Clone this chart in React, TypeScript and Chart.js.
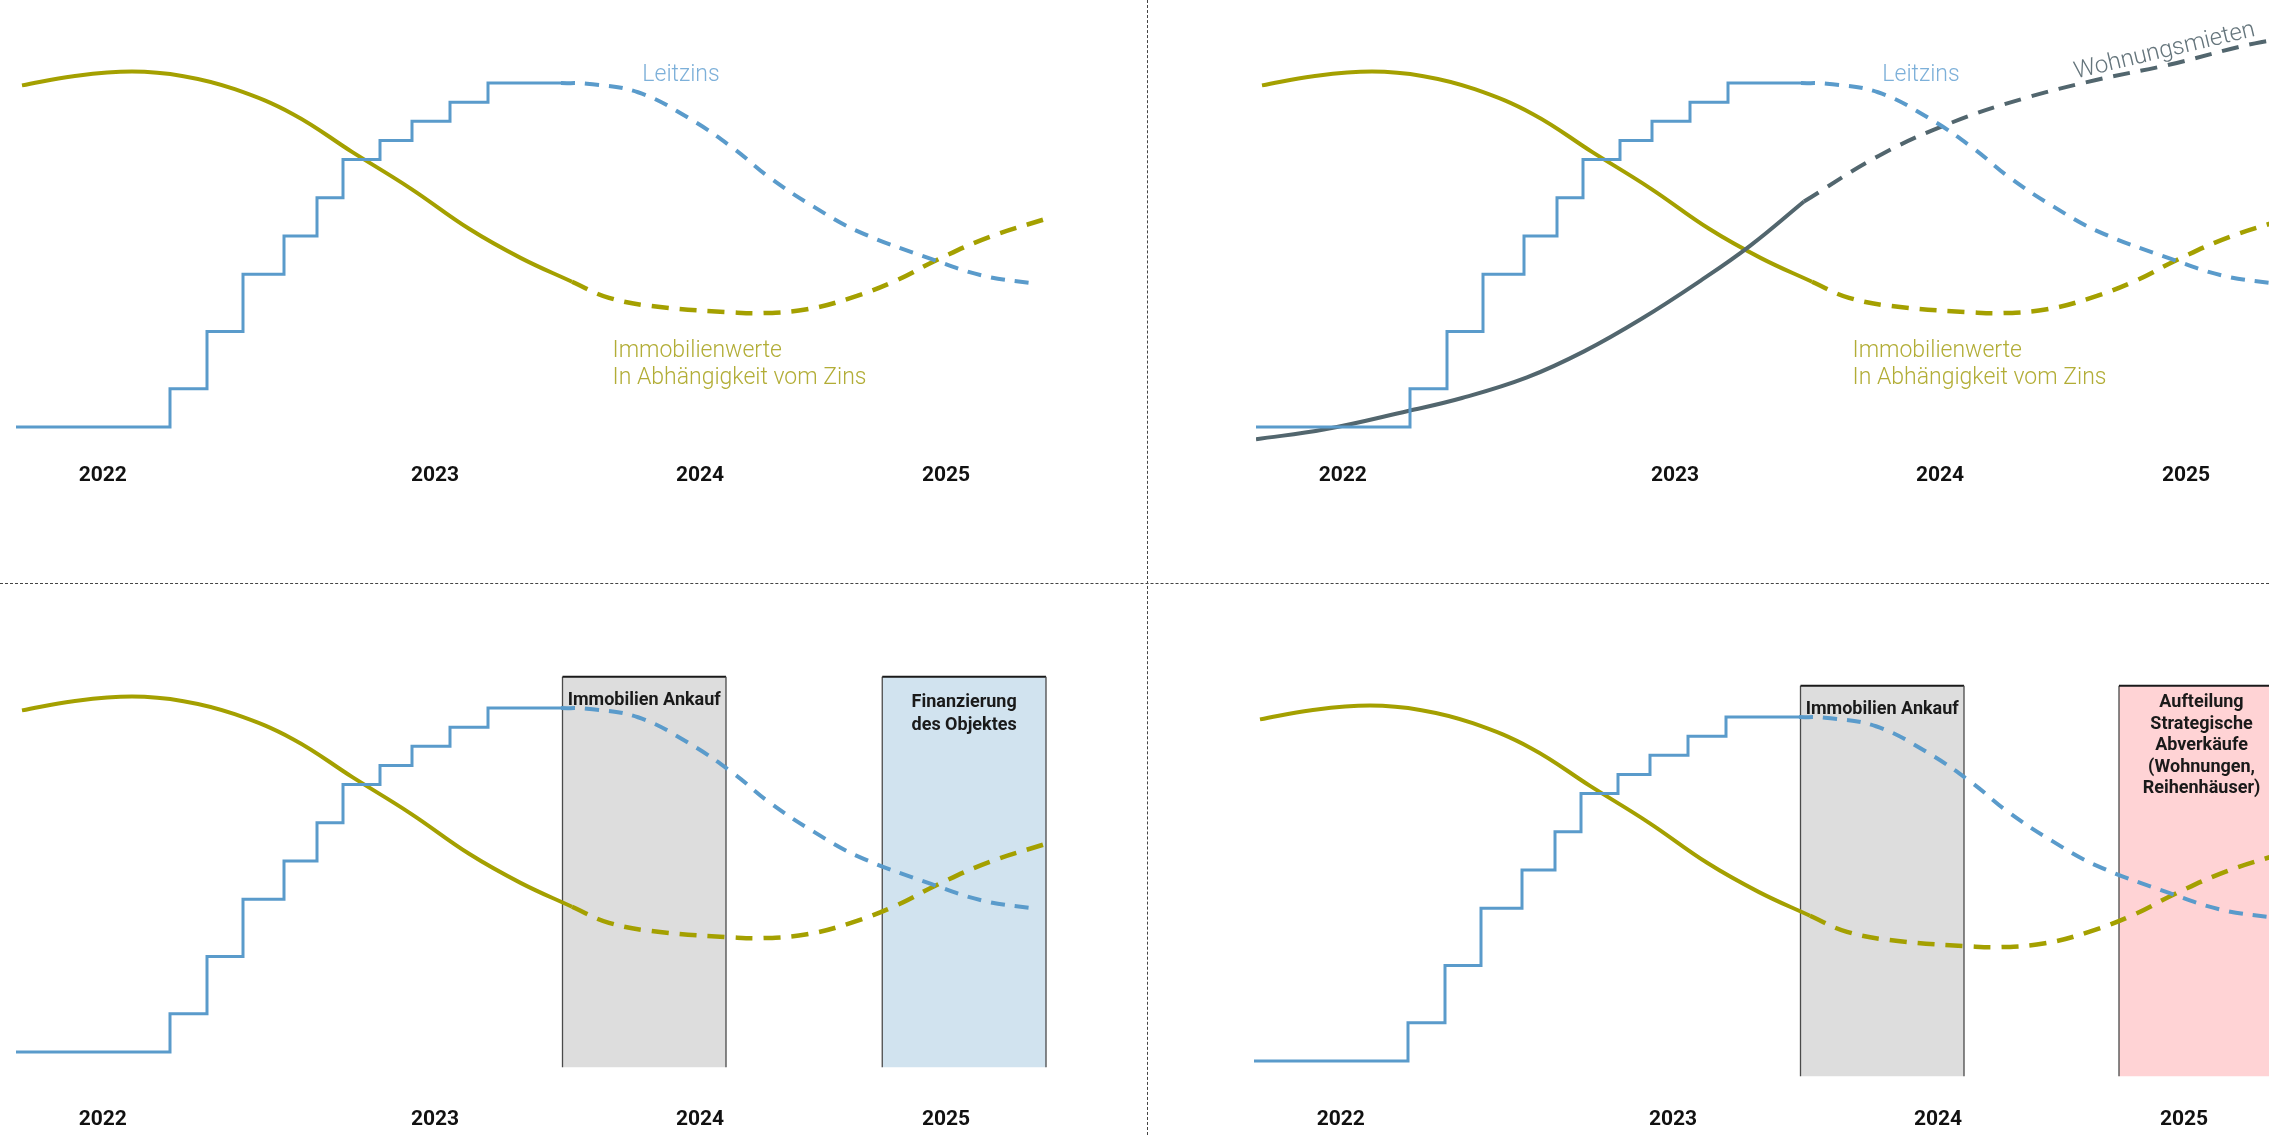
import React, { useEffect, useRef } from 'react';
import { Chart, registerables } from 'chart.js';

Chart.register(...registerables);

// ---------- data (x: schematic months since Jan 2022, y: rate-like index in %) ----------
const yearTickMonths = [3.47, 16.76, 27.36, 37.2];
const yearTickLabels = ['2022', '2023', '2024', '2025'];

// Leitzins (actual, stepped)
const leitzinsMonths = [0, 6.16, 7.64, 9.08, 10.72, 12.04, 13.08, 14.56, 15.84, 17.36, 18.88, 21.8];
const leitzinsValues = [-0.5, 0, 0.75, 1.5, 2.0, 2.5, 3.0, 3.25, 3.5, 3.75, 4.0, 4.0];
// Leitzins (forecast, dashed)
const leitzinsForecastMonths = [21.8, 22.84, 24.88, 26.92, 28.68, 30.16, 31.92, 33.68, 36.6, 38.68, 40.9];
const leitzinsForecastValues = [4.0, 3.99, 3.88, 3.54, 3.15, 2.76, 2.38, 2.06, 1.7, 1.48, 1.37];

// Immobilienwerte (actual, solid)
const immoMonths = [0.24, 2.29, 4.64, 6.7, 8.75, 11.1, 13.44, 15.79, 18.14, 20.2, 22.24];
const immoValues = [3.97, 4.09, 4.15, 4.09, 3.92, 3.59, 3.1, 2.62, 2.09, 1.71, 1.4];
// Immobilienwerte (forecast, dashed)
const immoForecastMonths = [22.24, 23.72, 25.76, 28.68, 29.88, 31.64, 33.4, 35.16, 36.92, 38.96, 41.16];
const immoForecastValues = [1.4, 1.19, 1.07, 1.0, 0.99, 1.04, 1.19, 1.41, 1.7, 1.99, 2.22];

// Wohnungsmieten (actual, solid)
const mietenMonths = [0, 2.76, 6.08, 8.24, 10.84, 13.12, 15.44, 17.76, 19.76, 21.92];
const mietenValues = [-0.66, -0.53, -0.29, -0.12, 0.15, 0.49, 0.92, 1.41, 1.87, 2.45];
// Wohnungsmieten (forecast, dashed)
const mietenForecastMonths = [21.92, 24.92, 27.8, 30.72, 33.6, 36.52, 39.96, 42];
const mietenForecastValues = [2.45, 3.05, 3.48, 3.8, 4.04, 4.24, 4.52, 4.62];

// Phase boxes (months from / to, value bottom / top)
const phaseRange = [-0.7, 4.41];
const ankaufMonths = [21.86, 28.4];
const finanzierungMonths = [34.65, 41.2];
const aufteilungMonths = [34.6, 41.2];

const ankaufLabel = ['Immobilien Ankauf'];
const finanzierungLabel = ['Finanzierung', 'des Objektes'];
const aufteilungLabel = ['Aufteilung', 'Strategische', 'Abverkäufe', '(Wohnungen,', 'Reihenhäuser)'];

// ---------- styles ----------
const FONT = 'Roboto';
const C_LEITZINS = '#5a9bcb';
const C_LEITZINS_TEXT = '#7db0d9';
const C_IMMO = '#a4a000';
const C_IMMO_TEXT = '#b2ad36';
const C_MIETEN = '#52666e';
const C_MIETEN_TEXT = '#65757c';

const X_MIN = 0;
const X_MAX = 42;
const Y_MIN = -0.9;
const Y_MAX = 5.1;

type TextItem = {
  x: number;
  y: number;
  lines: string[];
  font: string;
  color: string;
  align: CanvasTextAlign;
  baseline: CanvasTextBaseline;
  lineHeight: number;
  rotate?: number;
};

const pts = (xs: number[], ys: number[]) => xs.map((x, i) => ({ x, y: ys[i] }));

function lineDatasets(withMieten: boolean) {
  const ds: any[] = [
    {
      label: 'Immobilienwerte',
      data: pts(immoMonths, immoValues),
      borderColor: C_IMMO,
      borderWidth: 4,
      tension: 0.4,
      pointRadius: 0,
      order: 3,
    },
    {
      label: 'Immobilienwerte Prognose',
      data: pts(immoForecastMonths, immoForecastValues),
      borderColor: C_IMMO,
      borderWidth: 4.5,
      borderDash: [17, 11],
      tension: 0.4,
      pointRadius: 0,
      order: 3,
    },
    {
      label: 'Leitzins',
      data: pts(leitzinsMonths, leitzinsValues),
      borderColor: C_LEITZINS,
      borderWidth: 3,
      stepped: 'before',
      pointRadius: 0,
      order: 1,
    },
    {
      label: 'Leitzins Prognose',
      data: pts(leitzinsForecastMonths, leitzinsForecastValues),
      borderColor: C_LEITZINS,
      borderWidth: 4,
      borderDash: [14, 10],
      tension: 0.4,
      pointRadius: 0,
      order: 1,
    },
  ];
  if (withMieten) {
    ds.push(
      {
        label: 'Wohnungsmieten',
        data: pts(mietenMonths, mietenValues),
        borderColor: C_MIETEN,
        borderWidth: 4,
        tension: 0.4,
        pointRadius: 0,
        order: 2,
      },
      {
        label: 'Wohnungsmieten Prognose',
        data: pts(mietenForecastMonths, mietenForecastValues),
        borderColor: C_MIETEN,
        borderWidth: 4,
        borderDash: [17, 11],
        tension: 0.4,
        pointRadius: 0,
        order: 2,
      }
    );
  }
  return ds;
}

function boxDataset(label: string, months: number[], fill: string) {
  const [lo, hi] = phaseRange;
  return {
    label,
    data: [
      { x: months[0], y: lo },
      { x: months[0], y: hi },
      { x: months[1], y: hi },
      { x: months[1], y: lo },
    ],
    borderColor: '#4a4a4a',
    borderWidth: 1.3,
    segment: {
      borderColor: (c: any) => (c.p0DataIndex === 1 ? '#1a1a1a' : '#4a4a4a'),
      borderWidth: (c: any) => (c.p0DataIndex === 1 ? 2 : 1.3),
    },
    backgroundColor: fill,
    fill: { value: lo },
    tension: 0,
    pointRadius: 0,
    order: 10,
  };
}

const boldBox = `bold 18px ${FONT}`;
const lightLabel = `300 23px ${FONT}`;

const leitzinsText: TextItem = {
  x: 26.6, y: 4.03, lines: ['Leitzins'], font: lightLabel, color: C_LEITZINS_TEXT,
  align: 'center', baseline: 'alphabetic', lineHeight: 27.5,
};
const immoText: TextItem = {
  x: 23.86, y: 0.42, lines: ['Immobilienwerte', 'In Abhängigkeit vom Zins'], font: lightLabel, color: C_IMMO_TEXT,
  align: 'left', baseline: 'alphabetic', lineHeight: 27.5,
};
const mietenText: TextItem = {
  x: 36.4, y: 4.34, lines: ['Wohnungsmieten'], font: `300 24px ${FONT}`, color: C_MIETEN_TEXT,
  align: 'center', baseline: 'alphabetic', lineHeight: 27.5, rotate: -13.4,
};
const ankaufText: TextItem = {
  x: (ankaufMonths[0] + ankaufMonths[1]) / 2, y: 4.1, lines: ankaufLabel, font: boldBox, color: '#1a1a1a',
  align: 'center', baseline: 'middle', lineHeight: 22.5,
};
const finanzierungText: TextItem = {
  x: (finanzierungMonths[0] + finanzierungMonths[1]) / 2, y: 4.07, lines: finanzierungLabel, font: boldBox, color: '#1a1a1a',
  align: 'center', baseline: 'middle', lineHeight: 22.5,
};
const aufteilungText: TextItem = {
  x: (aufteilungMonths[0] + aufteilungMonths[1]) / 2, y: 4.185, lines: aufteilungLabel, font: boldBox, color: '#1a1a1a',
  align: 'center', baseline: 'middle', lineHeight: 21.4,
};

type PanelCfg = {
  left: number;
  top: number;
  width: number;
  height: number;
  tickPadding: number;
  datasets: any[];
  texts: TextItem[];
};

const panels: PanelCfg[] = [
  {
    left: 16, top: -1, width: 1050, height: 494, tickPadding: 5.1,
    datasets: lineDatasets(false),
    texts: [leitzinsText, immoText],
  },
  {
    left: 1256, top: -1, width: 1050, height: 494, tickPadding: 5.1,
    datasets: lineDatasets(true),
    texts: [leitzinsText, immoText, mietenText],
  },
  {
    left: 16, top: 624, width: 1050, height: 532, tickPadding: 24.1,
    datasets: [
      ...lineDatasets(false),
      boxDataset('Immobilien Ankauf', ankaufMonths, '#dddddd'),
      boxDataset('Finanzierung des Objektes', finanzierungMonths, '#d1e3ef'),
    ],
    texts: [ankaufText, finanzierungText],
  },
  {
    left: 1254, top: 633, width: 1050, height: 514, tickPadding: 15.1,
    datasets: [
      ...lineDatasets(false),
      boxDataset('Immobilien Ankauf', ankaufMonths, '#dddddd'),
      boxDataset('Aufteilung', aufteilungMonths, '#ffd3d5'),
    ],
    texts: [ankaufText, aufteilungText],
  },
];

function Panel({ cfg }: { cfg: PanelCfg }) {
  const ref = useRef<HTMLCanvasElement | null>(null);
  useEffect(() => {
    if (!ref.current) return;
    const texts = cfg.texts;
    const textPlugin = {
      id: 'panelTexts',
      afterDatasetsDraw(chart: any) {
        const ctx = chart.ctx as CanvasRenderingContext2D;
        const xs = chart.scales.x;
        const ys = chart.scales.y;
        for (const t of texts) {
          const px = xs.getPixelForValue(t.x);
          const py = ys.getPixelForValue(t.y);
          ctx.save();
          ctx.translate(px, py);
          if (t.rotate) ctx.rotate((t.rotate * Math.PI) / 180);
          ctx.font = t.font;
          ctx.fillStyle = t.color;
          ctx.textAlign = t.align;
          ctx.textBaseline = t.baseline;
          t.lines.forEach((l, i) => ctx.fillText(l, 0, i * t.lineHeight));
          ctx.restore();
        }
      },
    };
    const chart = new Chart(ref.current, {
      type: 'line',
      data: { datasets: cfg.datasets },
      options: {
        animation: false,
        responsive: false,
        maintainAspectRatio: false,
        devicePixelRatio: 1,
        layout: { padding: 0, autoPadding: false },
        plugins: { legend: { display: false }, tooltip: { enabled: false } },
        scales: {
          x: {
            type: 'linear',
            min: X_MIN,
            max: X_MAX,
            grid: { display: false, drawTicks: false },
            border: { display: false },
            afterBuildTicks: (scale: any) => {
              scale.ticks = yearTickMonths.map((v) => ({ value: v }));
            },
            ticks: {
              autoSkip: false,
              maxRotation: 0,
              minRotation: 0,
              padding: cfg.tickPadding,
              color: '#111111',
              font: { family: FONT, size: 21, weight: 'bold' },
              callback: (_v: any, i: number) => yearTickLabels[i],
            },
          },
          y: {
            type: 'linear',
            display: false,
            min: Y_MIN,
            max: Y_MAX,
          },
        },
      } as any,
      plugins: [textPlugin],
    });
    return () => chart.destroy();
  }, [cfg]);
  return (
    <canvas
      ref={ref}
      width={cfg.width}
      height={cfg.height}
      style={{
        position: 'absolute',
        left: cfg.left,
        top: cfg.top,
        width: cfg.width,
        height: cfg.height,
      }}
    />
  );
}

export default function App() {
  return (
    <div
      style={{
        position: 'fixed',
        left: 0,
        top: 0,
        width: 2269,
        height: 1135,
        overflow: 'hidden',
        background: '#ffffff',
      }}
    >
      {panels.map((p, i) => (
        <Panel key={i} cfg={p} />
      ))}
      <div
        style={{
          position: 'absolute',
          left: 1147,
          top: 0,
          width: 0,
          height: 1135,
          borderLeft: '1px dashed #444444',
        }}
      />
      <div
        style={{
          position: 'absolute',
          left: 0,
          top: 583,
          width: 2269,
          height: 0,
          borderTop: '1px dashed #444444',
        }}
      />
    </div>
  );
}
